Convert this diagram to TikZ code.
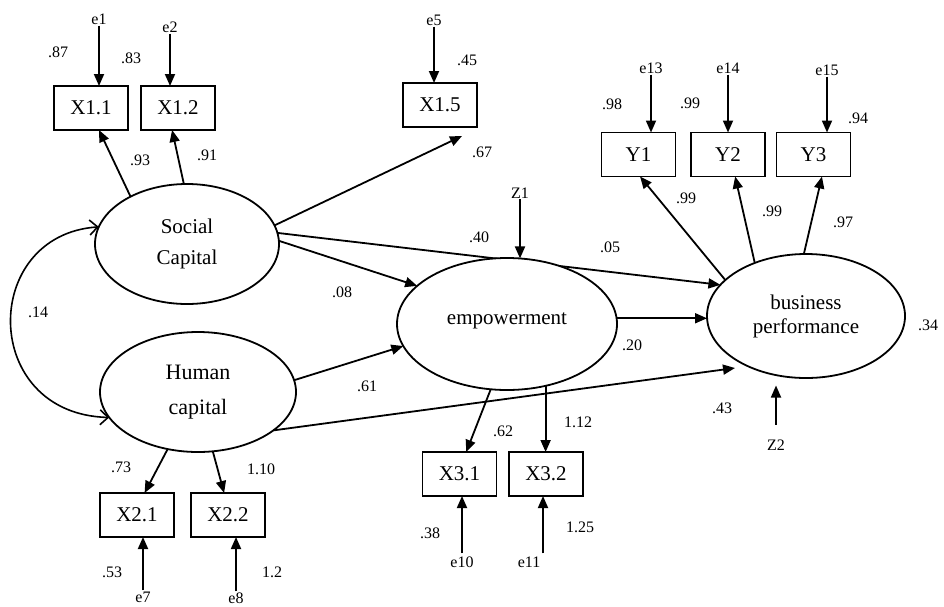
\documentclass[tikz,border=0pt]{standalone}
\usepackage{fontspec}
\setmainfont{Liberation Serif}
\usetikzlibrary{arrows.meta,shapes.geometric,calc,backgrounds}
\begin{document}
\begin{tikzpicture}[x=1pt,y=-1pt,
  box/.style={draw,line width=1.4pt,minimum width=74pt,minimum height=44pt,inner sep=0pt,outer sep=0pt,font=\fontsize{21}{23}\selectfont},
  lat/.style={draw,ellipse,fill=white,line width=1.8pt,inner sep=0pt,outer sep=0pt,align=center},
  lbl/.style={inner sep=1pt,font=\fontsize{16}{18}\selectfont},
  arr/.style={line width=1.8pt,-{Triangle[length=12pt,width=10pt]}},
  cov/.style={line width=1.6pt,{Straight Barb[length=8pt,width=15pt]}-{Straight Barb[length=8pt,width=15pt]}}]
\useasboundingbox (0,0) rectangle (944,606);
% latent variables
\node[lat,minimum width=184pt,minimum height=120pt,font=\fontsize{21}{31}\selectfont] (sc) at (187,244) {Social\\Capital};
\node[lat,minimum width=196pt,minimum height=120pt,font=\fontsize{22}{35}\selectfont] (hc) at (198,392) {Human\\capital};
\node[lat,minimum width=220pt,minimum height=132pt,font=\fontsize{21}{23}\selectfont] (emp) at (507,324) {\raisebox{10pt}{empowerment}};
\node[lat,minimum width=198pt,minimum height=124pt,font=\fontsize{21}{24}\selectfont] (bp) at (806,316) {business\\performance};
% observed
\node[box] (x11) at (91,108) {X1.1};
\node[box] (x12) at (178,108) {X1.2};
\node[box] (x15) at (440,105) {X1.5};
\node[box] (y1) at (638.5,154.5) {Y1};
\node[box] (y2) at (728,154.5) {Y2};
\node[box] (y3) at (813.5,154.5) {Y3};
\node[box] (x21) at (137,515) {X2.1};
\node[box] (x22) at (228,515) {X2.2};
\node[box] (x31) at (459.5,474) {X3.1};
\node[box] (x32) at (546,474) {X3.2};
% error terms
\node[lbl] (e1) at (99,19) {e1};
\node[lbl] (e2) at (170,27) {e2};
\node[lbl] (e5) at (434,20) {e5};
\node[lbl] (e13) at (651,68) {e13};
\node[lbl] (e14) at (728,68) {e14};
\node[lbl] (e15) at (827,70) {e15};
\node[lbl] (e7) at (143,597) {e7};
\node[lbl] (e8) at (236,598) {e8};
\node[lbl] (e10) at (462,562) {e10};
\node[lbl] (e11) at (529,562) {e11};
\node[lbl] (z1) at (520,193) {Z1};
\node[lbl] (z2) at (776,445) {Z2};
% error arrows
\draw[arr] (e1.south) -- (e1.south |- x11.north);
\draw[arr] (e2.south) -- (e2.south |- x12.north);
\draw[arr] (e5.south) -- (e5.south |- x15.north);
\draw[arr] (e13.south) -- (e13.south |- y1.north);
\draw[arr] (e14.south) -- (e14.south |- y2.north);
\draw[arr] (e15.south) -- (e15.south |- y3.north);
\draw[arr] (e7.north) -- (e7.north |- x21.south);
\draw[arr] (e8.north) -- (e8.north |- x22.south);
\draw[arr] ($(e10.north)+(0,-2)$) -- (e10.north |- x31.south);
\draw[arr] ($(e11.north)+(14,-2)$) -- ({$(e11.north)+(14,0)$} |- x32.south);
\draw[arr] (z1.south) -- (z1.south |- emp.79);
\draw[arr] ($(z2.north)+(0,-14)$) -- ($(z2.north)+(0,-53)$);
% measurement arrows
\draw[arr] (sc.140) -- (x11.-70);
\draw[arr] (sc.93) -- (x12.-105);
\draw[arr] (sc.12) -- ($(x15.south)+(22,9)$);
\draw[arr] (hc.-118) -- (x21.71);
\draw[arr] (hc.-76) -- (x22.100);
\draw[arr] (emp.-104) -- (x31.73);
\draw[arr] (emp.-58) -- (emp.-58 |- x32.north);
\draw[arr] (bp.156) -- (y1.-86);
\draw[arr] (bp.134) -- (y2.-72);
\draw[arr] (bp.92) -- (y3.-69);
% structural arrows
\begin{pgfonlayer}{background}
\draw[arr] (sc.7) -- (bp.160);
\end{pgfonlayer}
\draw[arr] (sc.2) -- (emp.157);
\draw[arr] (hc.7) -- (emp.-168);
\draw[arr] (hc.-27) -- ($(bp.center)+(-71,52)$);
\draw[arr] (emp.3) -- (emp.3 -| bp.west);
\draw[cov] (sc.169) .. controls (-20,235) and (-20,414) .. (hc.-164);
% coefficients
\node[lbl] (l87) at (58,52) {.87};
\node[lbl] (l83) at (131,58) {.83};
\node[lbl] (l93) at (140,160) {.93};
\node[lbl] (l91) at (207,155) {.91};
\node[lbl] (l45) at (467,60) {.45};
\node[lbl] (l67) at (482,152) {.67};
\node[lbl] (l98) at (612,104) {.98};
\node[lbl] (l99a) at (690,103) {.99};
\node[lbl] (l94) at (858,118) {.94};
\node[lbl] (l99b) at (686,198) {.99};
\node[lbl] (l99c) at (772,211) {.99};
\node[lbl] (l97) at (843,222) {.97};
\node[lbl] (l14) at (38,312) {.14};
\node[lbl] (l40) at (479,237) {.40};
\node[lbl] (l05) at (610,247) {.05};
\node[lbl] (l08) at (342,292) {.08};
\node[lbl] (l61) at (367,386) {.61};
\node[lbl] (l20) at (632,345) {.20};
\node[lbl] (l34) at (928,325) {.34};
\node[lbl] (l43) at (722,408) {.43};
\node[lbl] (l73) at (121,467) {.73};
\node[lbl] (l110) at (261,469) {1.10};
\node[lbl] (l53) at (112,572) {.53};
\node[lbl] (l12) at (272,572) {1.2};
\node[lbl] (l62) at (503,431) {.62};
\node[lbl] (l112) at (578,422) {1.12};
\node[lbl] (l38) at (430,533) {.38};
\node[lbl] (l125) at (580,527) {1.25};
\end{tikzpicture}
\end{document}
